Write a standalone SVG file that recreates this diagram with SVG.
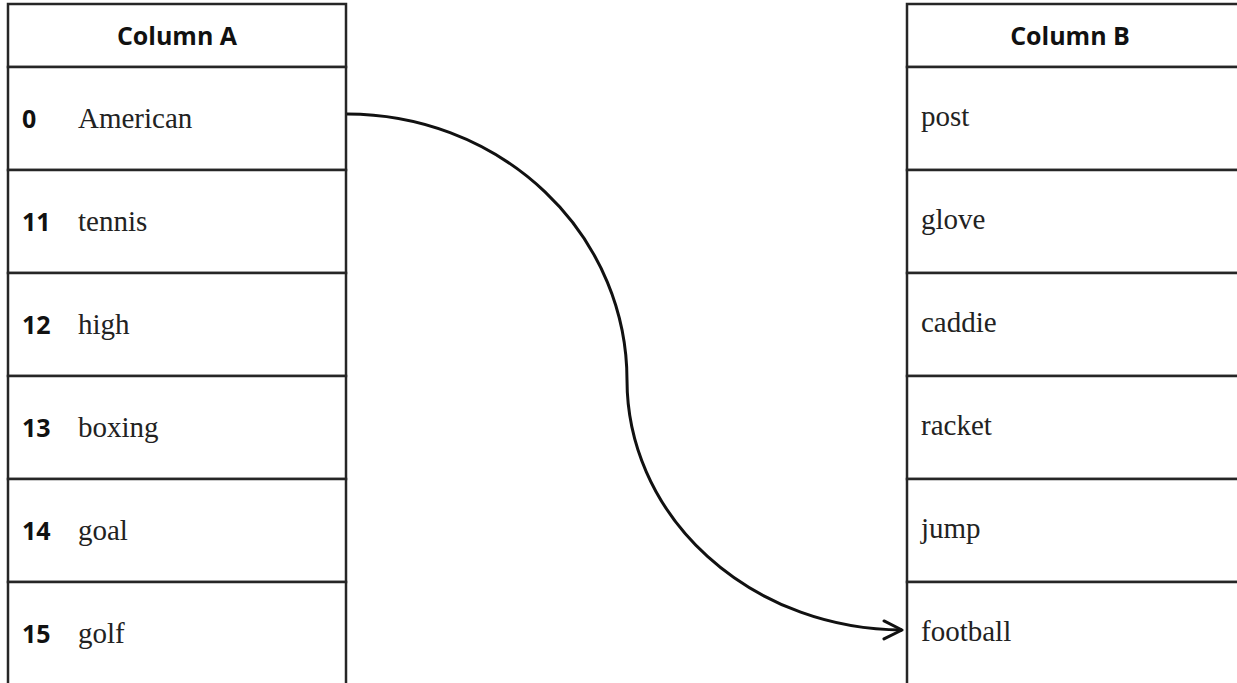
<svg xmlns="http://www.w3.org/2000/svg" width="1237" height="683" viewBox="0 0 1237 683">
<style>
.cell{fill:#fff;stroke:#262626;stroke-width:2.5}
.hdr{font-family:"Open Sans","Liberation Sans",sans-serif;font-weight:bold;font-size:25px;fill:#111;text-anchor:middle}
.num{font-family:"Open Sans","Liberation Sans",sans-serif;font-weight:bold;font-size:25px;fill:#111}
.word{font-family:"Liberation Serif","Times New Roman",serif;font-size:29px;fill:#222}
.conn{fill:none;stroke:#111;stroke-width:3}
</style>
<defs>
<marker id="arrow" markerUnits="userSpaceOnUse" markerWidth="24" markerHeight="24" refX="20" refY="10" orient="auto" viewBox="0 0 24 20">
<path d="M2,1 L20,10 L2,19" fill="none" stroke="#111" stroke-width="3" stroke-linecap="round" stroke-linejoin="round"/>
</marker>
</defs>
<rect x="0" y="0" width="1237" height="683" fill="#fff"/>
<g id="colA">
<g id="colA-header"><rect class="cell" x="8" y="4" width="338" height="63"/><text class="hdr" x="177" y="45">Column A</text></g>
<g id="colA-0"><rect class="cell" x="8" y="67" width="338" height="103"/><text class="num" x="22" y="128">0</text><text class="word" x="78" y="128">American</text></g>
<g id="colA-11"><rect class="cell" x="8" y="170" width="338" height="103"/><text class="num" x="22" y="231">11</text><text class="word" x="78" y="231">tennis</text></g>
<g id="colA-12"><rect class="cell" x="8" y="273" width="338" height="103"/><text class="num" x="22" y="334">12</text><text class="word" x="78" y="334">high</text></g>
<g id="colA-13"><rect class="cell" x="8" y="376" width="338" height="103"/><text class="num" x="22" y="437">13</text><text class="word" x="78" y="437">boxing</text></g>
<g id="colA-14"><rect class="cell" x="8" y="479" width="338" height="103"/><text class="num" x="22" y="540">14</text><text class="word" x="78" y="540">goal</text></g>
<g id="colA-15"><rect class="cell" x="8" y="582" width="338" height="120"/><text class="num" x="22" y="643">15</text><text class="word" x="78" y="643">golf</text></g>
</g>
<g id="colB">
<g id="colB-header"><rect class="cell" x="907" y="4" width="336" height="63"/><text class="hdr" x="1070" y="45">Column B</text></g>
<g id="colB-post"><rect class="cell" x="907" y="67" width="336" height="103"/><text class="word" x="921" y="126">post</text></g>
<g id="colB-glove"><rect class="cell" x="907" y="170" width="336" height="103"/><text class="word" x="921" y="229">glove</text></g>
<g id="colB-caddie"><rect class="cell" x="907" y="273" width="336" height="103"/><text class="word" x="921" y="332">caddie</text></g>
<g id="colB-racket"><rect class="cell" x="907" y="376" width="336" height="103"/><text class="word" x="921" y="435">racket</text></g>
<g id="colB-jump"><rect class="cell" x="907" y="479" width="336" height="103"/><text class="word" x="921" y="538">jump</text></g>
<g id="colB-football"><rect class="cell" x="907" y="582" width="336" height="120"/><text class="word" x="921" y="641">football</text></g>
</g>
<g id="connectors">
<path class="conn" d="M347,114 A280,266 0 0 1 627,380 A276,250 0 0 0 902,630" marker-end="url(#arrow)"/>
</g>
</svg>
